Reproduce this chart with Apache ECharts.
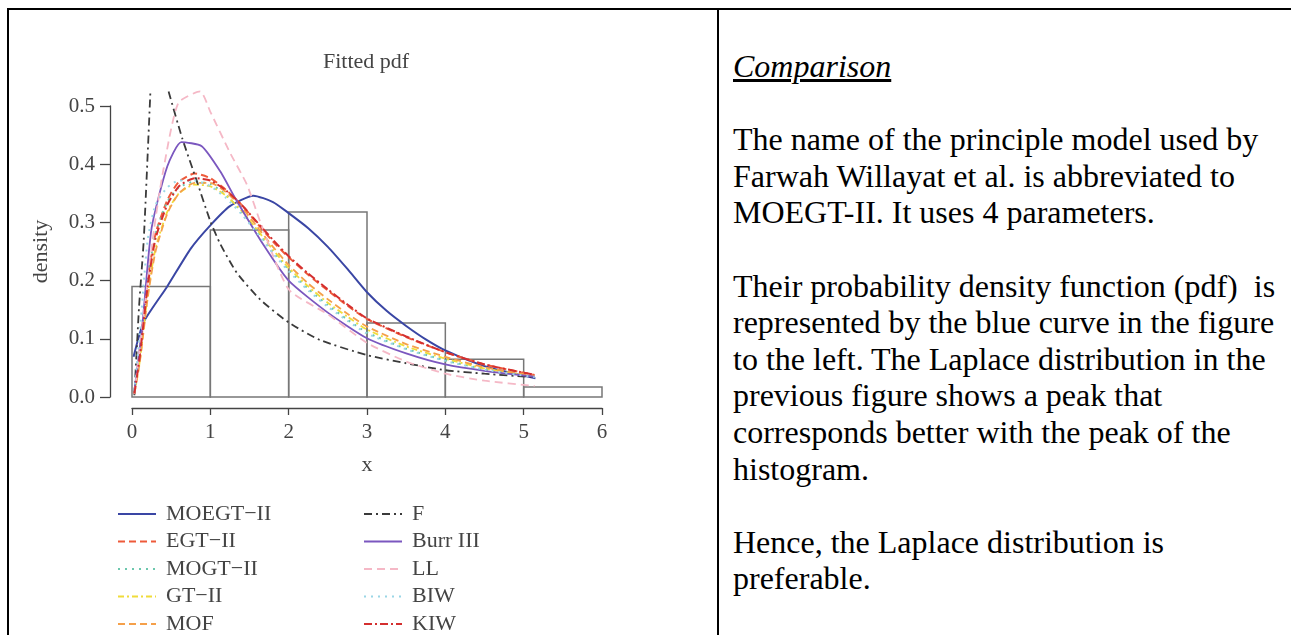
<!DOCTYPE html>
<html>
<head>
  <meta charset="UTF-8">
  <title>Fitted pdf</title>
  <script src="https://cdn.jsdelivr.net/npm/echarts@6/dist/echarts.min.js"></script>
  <style type="text/css">
  body { margin: 0; background: #ffffff; overflow: hidden; }
  .rule { position: absolute; background: #000000; }
  #chart { position: absolute; left: 0; top: 0; width: 732px; height: 720px; }
  #notes {
    position: absolute; left: 733px; top: 48px;
    font-family: "Liberation Serif", "Times New Roman", serif;
    font-size: 32px; line-height: 36.6px; color: #000000;
    white-space: nowrap;
  }
  #notes div { min-height: 36.6px; }
  </style>
</head>
<body>
  <div class="rule" style="left:7px; top:8px; width:1284px; height:2px;"></div>
  <div class="rule" style="left:7px; top:8px; width:2px; height:627px;"></div>
  <div class="rule" style="left:717px; top:8px; width:2px; height:627px;"></div>

  <div id="chart"></div>

  <div id="notes">
    <div><i><u>Comparison</u></i></div>
    <div></div>
    <div>The name of the principle model used by</div>
    <div>Farwah Willayat et al. is abbreviated to</div>
    <div>MOEGT-II. It uses 4 parameters.</div>
    <div></div>
    <div>Their probability density function (pdf)&nbsp; is</div>
    <div>represented by the blue curve in the figure</div>
    <div>to the left. The Laplace distribution in the</div>
    <div>previous figure shows a peak that</div>
    <div>corresponds better with the peak of the</div>
    <div>histogram.</div>
    <div></div>
    <div>Hence, the Laplace distribution is</div>
    <div>preferable.</div>
  </div>

  <script>
    // histogram bins: [from, to, density]
    var histBins = [[0, 1, 0.190], [1, 2, 0.287], [2, 3, 0.318], [3, 4, 0.127], [4, 5, 0.065], [5, 6, 0.017]];

    var xTicks = [0, 1, 2, 3, 4, 5, 6];
    var yTicks = [0.0, 0.1, 0.2, 0.3, 0.4, 0.5];

    // shared x grid for the cluster of similar fits
    var xGrid = [0.03, 0.1, 0.2, 0.3, 0.45, 0.6, 0.8, 1.0, 1.2, 1.4, 1.6, 1.8, 2.0, 2.25, 2.5, 2.75, 3.0, 3.5, 4.0, 4.5, 5.14];

    var xMOEGT = [0.02, 0.15, 0.45, 0.75, 1.0, 1.25, 1.55, 1.8, 2.0, 2.25, 2.5, 2.75, 3.0, 3.25, 3.5, 3.75, 4.0, 4.5, 5.15];
    var yMOEGT = [0.069, 0.129, 0.190, 0.255, 0.295, 0.328, 0.346, 0.335, 0.316, 0.290, 0.258, 0.220, 0.180, 0.148, 0.122, 0.099, 0.080, 0.053, 0.032];

    var yEGT  = [0.008, 0.075, 0.200, 0.280, 0.338, 0.370, 0.384, 0.376, 0.356, 0.330, 0.298, 0.267, 0.240, 0.210, 0.183, 0.157, 0.134, 0.103, 0.077, 0.056, 0.038];
    var yMOGT = [0.008, 0.080, 0.205, 0.280, 0.335, 0.360, 0.370, 0.366, 0.347, 0.318, 0.285, 0.250, 0.219, 0.186, 0.158, 0.133, 0.111, 0.083, 0.063, 0.048, 0.035];
    var yGT   = [0.005, 0.062, 0.175, 0.255, 0.318, 0.350, 0.365, 0.362, 0.346, 0.320, 0.287, 0.253, 0.222, 0.190, 0.162, 0.138, 0.116, 0.087, 0.066, 0.049, 0.035];
    var yMOF  = [0.005, 0.060, 0.170, 0.250, 0.315, 0.350, 0.368, 0.368, 0.352, 0.326, 0.292, 0.258, 0.227, 0.195, 0.168, 0.143, 0.121, 0.091, 0.069, 0.051, 0.036];
    var yBIW  = [0.010, 0.110, 0.270, 0.330, 0.360, 0.372, 0.372, 0.362, 0.342, 0.314, 0.281, 0.247, 0.216, 0.183, 0.155, 0.131, 0.109, 0.082, 0.062, 0.047, 0.034];
    var yKIW  = [0.006, 0.070, 0.190, 0.272, 0.330, 0.362, 0.376, 0.372, 0.355, 0.330, 0.300, 0.270, 0.242, 0.212, 0.185, 0.159, 0.135, 0.104, 0.077, 0.056, 0.038];

    // F leaves the plot at the top, '-' breaks the line there
    var xF = [0.03, 0.09, 0.15, 0.235, 0.35, 0.467, 0.64, 0.83, 1.0, 1.13, 1.34, 1.64, 2.0, 2.4, 3.0, 3.5, 4.0, 4.5, 5.12];
    var yF = [0.003, 0.155, 0.270, 0.525, '-', 0.525, 0.445, 0.370, 0.302, 0.262, 0.213, 0.167, 0.128, 0.098, 0.072, 0.058, 0.046, 0.040, 0.034];

    var xBurr = [0.03, 0.13, 0.25, 0.45, 0.63, 0.89, 1.13, 1.32, 1.68, 2.0, 2.5, 3.0, 3.5, 4.0, 4.5, 5.14];
    var yBurr = [0.010, 0.120, 0.290, 0.396, 0.438, 0.431, 0.387, 0.341, 0.261, 0.200, 0.145, 0.101, 0.075, 0.056, 0.045, 0.035];

    var xLL = [0.03, 0.28, 0.40, 0.59, 0.87, 1.0, 1.25, 1.47, 1.64, 2.0, 2.5, 3.0, 3.5, 4.0, 4.5, 5.14];
    var yLL = [0.005, 0.287, 0.390, 0.505, 0.525, 0.490, 0.420, 0.364, 0.300, 0.185, 0.142, 0.093, 0.061, 0.040, 0.028, 0.019];

    var legendLeft = ['MOEGT−II', 'EGT−II', 'MOGT−II', 'GT−II', 'MOF'];
    var legendRight = ['F', 'Burr III', 'LL', 'BIW', 'KIW'];

    function pairs(xs, ys) {
      return xs.map(function (x, i) { return [x, ys[i]]; });
    }

    var serif = '"Liberation Serif", "DejaVu Serif", serif';
    var ink = '#444444';

    function curve(name, xs, ys, color, type, width) {
      return {
        name: name,
        type: 'line',
        data: pairs(xs, ys),
        symbol: 'none',
        smooth: 0.2,
        clip: false,
        connectNulls: false,
        lineStyle: { color: color, width: width || 1.8, type: type },
        itemStyle: { color: color },
        z: 3
      };
    }

    var chart = echarts.init(document.getElementById('chart'), null, {renderer: 'canvas'});

    var legendBase = {
      orient: 'vertical',
      top: 498,
      height: 200,
      itemWidth: 38,
      itemHeight: 14,
      itemGap: 5.5,
      itemStyle: { opacity: 0 },
      textStyle: { fontFamily: serif, fontSize: 22, color: ink, padding: [0, 0, 0, 5] },
      selectedMode: false
    };

    chart.setOption({
      animation: false,
      backgroundColor: 'transparent',
      title: {
        text: 'Fitted pdf',
        left: 'center',
        top: 46,
        textStyle: { fontFamily: serif, fontSize: 22, fontWeight: 'normal', color: ink }
      },
      legend: [
        Object.assign({}, legendBase, { left: 112, data: legendLeft }),
        Object.assign({}, legendBase, { left: 358, data: legendRight })
      ],
      grid: { left: 132, top: 106, width: 470, height: 291 },
      xAxis: {
        type: 'value',
        min: xTicks[0],
        max: xTicks[xTicks.length - 1],
        interval: 1,
        offset: 11,
        name: 'x',
        nameLocation: 'middle',
        nameGap: 46,
        nameTextStyle: { fontFamily: serif, fontSize: 22, color: ink },
        axisLine: { onZero: false, lineStyle: { color: ink, width: 1.3 } },
        axisTick: { length: 7, lineStyle: { color: ink, width: 1.3 } },
        axisLabel: { margin: 14, fontFamily: serif, fontSize: 21, color: ink },
        splitLine: { show: false }
      },
      yAxis: {
        type: 'value',
        min: yTicks[0],
        max: yTicks[yTicks.length - 1],
        interval: 0.1,
        offset: 22,
        name: 'density',
        nameLocation: 'middle',
        nameGap: 58,
        nameTextStyle: { fontFamily: serif, fontSize: 22, color: ink },
        axisLine: { show: true, onZero: false, lineStyle: { color: ink, width: 1.3 } },
        axisTick: { show: true, length: 10, lineStyle: { color: ink, width: 1.3 } },
        axisLabel: {
          margin: 15, fontFamily: serif, fontSize: 21, color: ink,
          formatter: function (v) { return v.toFixed(1); }
        },
        splitLine: { show: false }
      },
      series: [
        {
          name: 'hist',
          type: 'custom',
          data: histBins,
          encode: { x: [0, 1], y: 2 },
          z: 1,
          renderItem: function (params, api) {
            var p0 = api.coord([api.value(0), 0]);
            var p1 = api.coord([api.value(1), api.value(2)]);
            return {
              type: 'rect',
              shape: { x: p0[0], y: p1[1], width: p1[0] - p0[0], height: p0[1] - p1[1] },
              style: { fill: 'none', stroke: '#777777', lineWidth: 1.5 }
            };
          }
        },
        curve('MOEGT−II', xMOEGT, yMOEGT, '#3a46a4', 'solid', 2),
        curve('EGT−II', xGrid, yEGT, '#ee5a3a', [7, 4], 2),
        curve('MOGT−II', xGrid, yMOGT, '#6cc7ad', [2, 5], 2),
        curve('GT−II', xGrid, yGT, '#f0dc3a', [6, 3, 2, 3], 1.8),
        curve('MOF', xGrid, yMOF, '#f5a04a', [7, 4], 1.8),
        curve('F', xF, yF, '#3a3a3a', [8, 4, 2, 4], 1.8),
        curve('Burr III', xBurr, yBurr, '#7b57bf', 'solid', 1.8),
        curve('LL', xLL, yLL, '#f5b8c6', [8, 5], 1.8),
        curve('BIW', xGrid, yBIW, '#9ad6e6', [2, 5], 2),
        curve('KIW', xGrid, yKIW, '#d42f2f', [8, 3, 2, 3], 2)
      ]
    });
  </script>
</body>
</html>
